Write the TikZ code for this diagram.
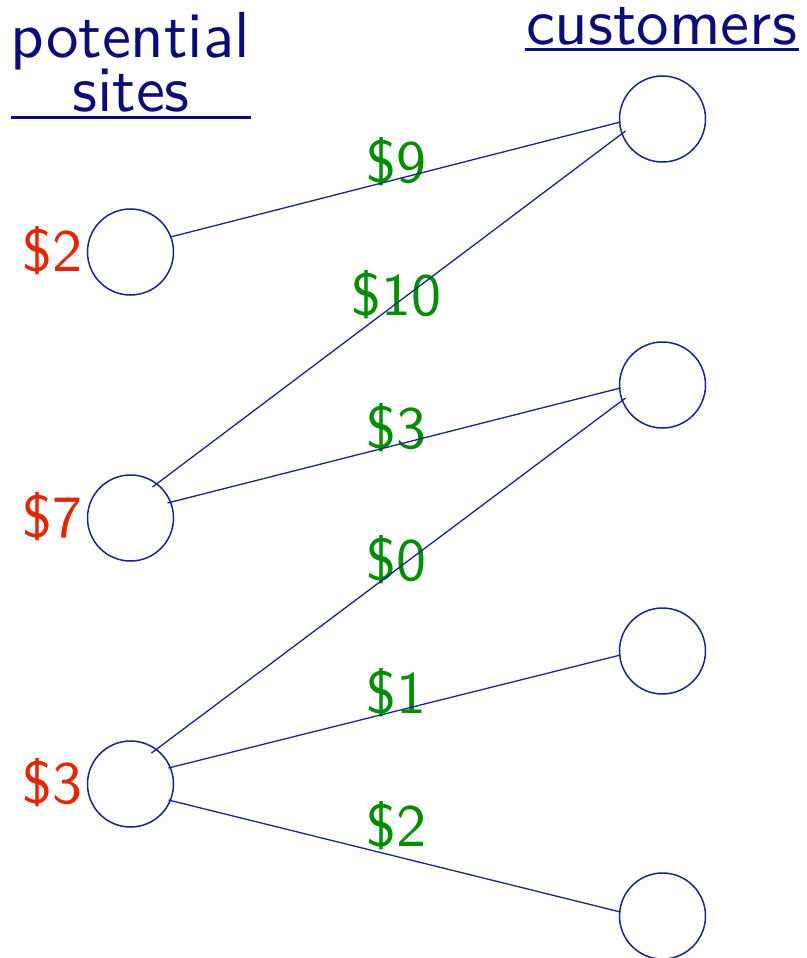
\documentclass[tikz,border=0pt]{standalone}
\usepackage{fontspec}
\newfontfamily\lms{lmsans10-regular.otf}
\usetikzlibrary{calc}
\definecolor{navytext}{RGB}{12,12,120}
\definecolor{navyline}{RGB}{25,35,140}
\definecolor{costred}{RGB}{222,40,8}
\definecolor{costgreen}{RGB}{0,142,0}
\begin{document}
\begin{tikzpicture}[x=1pt,y=-1pt,
  site/.style={circle,draw=navyline,line width=1.5pt,minimum size=86pt,inner sep=0pt,outer sep=0pt},
  edge/.style={navyline,line width=1.3pt},
  head/.style={text=navytext,font=\lms\fontsize{65}{70}\selectfont,anchor=base,inner sep=0pt},
  fcost/.style={text=costred,font=\lms\fontsize{60}{66}\selectfont,anchor=base,inner sep=0pt},
  tcost/.style={text=costgreen,font=\lms\fontsize{60}{66}\selectfont,anchor=base,inner sep=0pt},
  uline/.style={navytext,line width=3pt}]
\useasboundingbox (0,0) rectangle (806,958);
% headings
\node[head] (pot) at (130.5,57) {potential};
\node[head] (sites) at (131,111) {sites};
\node[head] (cust) at (661.5,45) {customers};
\coordinate (u1a) at (11,117);
\coordinate (u1b) at (251,117);
\coordinate (u2a) at (525,50);
\coordinate (u2b) at (799,50);
\draw[uline] (u1a) -- (u1b);
\draw[uline] (u2a) -- (u2b);
% sites
\node[site] (L1) at (130.5,252) {};
\node[site] (L2) at (130.5,518) {};
\node[site] (L3) at (130.5,784) {};
% customers
\node[site] (R1) at (662.5,119) {};
\node[site] (R2) at (662.5,385) {};
\node[site] (R3) at (662.5,651) {};
\node[site] (R4) at (662.5,916) {};
% facility costs
\node[fcost] (f1) at (52,271) {\$2};
\node[fcost] (f2) at (52,537) {\$7};
\node[fcost] (f3) at (52,803) {\$3};
% transport costs
\node[tcost] (t1) at (396,182) {\$9};
\node[tcost] (t2) at (396,315) {\$10};
\node[tcost] (t3) at (396,448) {\$3};
\node[tcost] (t4) at (396,580) {\$0};
\node[tcost] (t5) at (396,713) {\$1};
\node[tcost] (t6) at (396,846) {\$2};
% edges
\draw[edge] ($(L1)+(40,-15)$) -- ($(R1)+(-42,3)$);
\draw[edge] ($(L2)+(22,-31)$) -- ($(R1)+(-37,12)$);
\draw[edge] ($(L2)+(37,-15)$) -- ($(R2)+(-42,3)$);
\draw[edge] ($(L3)+(21,-31)$) -- ($(R2)+(-37,13)$);
\draw[edge] ($(L3)+(38,-16)$) -- ($(R3)+(-42,4)$);
\draw[edge] ($(L3)+(38,16)$) -- ($(R4)+(-42,-4)$);
\end{tikzpicture}
\end{document}
